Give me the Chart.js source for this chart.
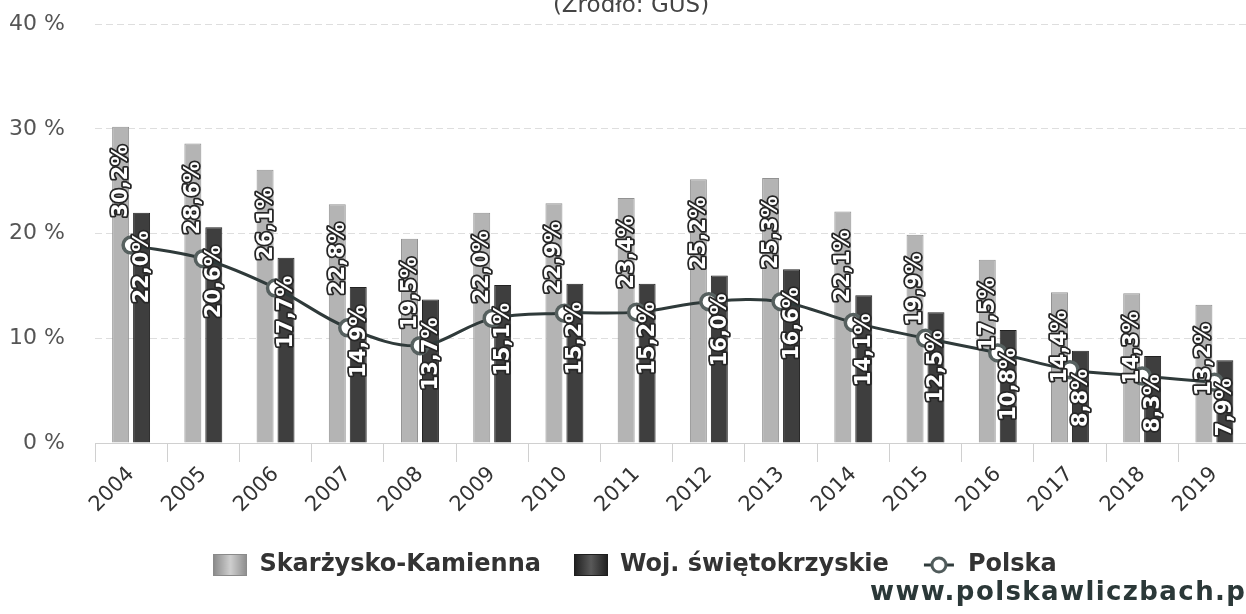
<!DOCTYPE html>
<html lang="pl">
<head>
<meta charset="utf-8">
<title>Stopa bezrobocia - Skarżysko-Kamienna</title>
<script src="https://cdn.jsdelivr.net/npm/chart.js@4.4.1/dist/chart.umd.min.js"></script>
<style>
  html, body { margin: 0; padding: 0; background: #fff; }
  #wrap { position: relative; width: 1246px; height: 614px; overflow: hidden; }
  #chart { position: absolute; left: 0; top: -19px; }
  .source {
    position: absolute; top: -7px; left: 0; width: 1262px;
    text-align: center; font: 23px/22px 'DejaVu Sans', sans-serif; color: #444;
  }
  .site {
    position: absolute; left: 870px; top: 578px; white-space: nowrap; letter-spacing: 1.4px;
    font: bold 26px/26px 'DejaVu Sans', sans-serif; color: #2b3838;
  }
</style>
</head>
<body>
<div id="wrap">
  <canvas id="chart" width="1262" height="633"></canvas>
  <div class="source">(Źródło: GUS)</div>
  <div class="site">www.polskawliczbach.pl</div>
</div>
<script>
const years = ['2004','2005','2006','2007','2008','2009','2010','2011',
               '2012','2013','2014','2015','2016','2017','2018','2019'];
const skarzysko = [30.2, 28.6, 26.1, 22.8, 19.5, 22.0, 22.9, 23.4, 25.2, 25.3, 22.1, 19.9, 17.5, 14.4, 14.3, 13.2];
const wojewodztwo = [22.0, 20.6, 17.7, 14.9, 13.7, 15.1, 15.2, 15.2, 16.0, 16.6, 14.1, 12.5, 10.8, 8.8, 8.3, 7.9];
const polska = [18.9, 17.6, 14.8, 11.0, 9.3, 11.9, 12.4, 12.5, 13.5, 13.5, 11.5, 10.0, 8.6, 7.0, 6.4, 5.8];
const yTicks = [0, 10, 20, 30, 40];

const FONT = "'DejaVu Sans', sans-serif";
const LIGHT = '#b4b4b4', LIGHT_EDGE = '#929292';
const DARK = '#3e3e3e', DARK_EDGE = '#222';
const LINE = '#2f3a3a';

// legend symbols drawn on small canvases
function makeBox(fill, edge) {
  const c = document.createElement('canvas');
  c.width = 34; c.height = 22;
  const g = c.getContext('2d');
  const grad = g.createLinearGradient(0, 0, 34, 0);
  grad.addColorStop(0, edge); grad.addColorStop(0.5, fill); grad.addColorStop(1, edge);
  g.fillStyle = grad; g.fillRect(0, 0, 34, 22);
  g.strokeStyle = edge; g.lineWidth = 1; g.strokeRect(0.5, 0.5, 33, 21);
  return c;
}
function makeLineIcon() {
  const c = document.createElement('canvas');
  c.width = 34; c.height = 22;
  const g = c.getContext('2d');
  g.strokeStyle = LINE; g.lineWidth = 3;
  g.beginPath(); g.moveTo(2, 11); g.lineTo(32, 11); g.stroke();
  g.beginPath(); g.arc(17, 11, 7, 0, Math.PI * 2);
  g.fillStyle = '#fff'; g.fill();
  g.strokeStyle = '#4f5a5a'; g.stroke();
  return c;
}
const icons = [makeBox('#cfcfcf', '#8a8a8a'), makeBox('#595959', '#1e1e1e'), makeLineIcon()];

const fmt = v => v.toFixed(1).replace('.', ',') + '%';

// white rotated labels inside the top of each bar
const barLabels = {
  id: 'barLabels',
  afterDatasetsDraw(chart) {
    const ctx = chart.ctx;
    ctx.save();
    ctx.font = `bold 21px ${FONT}`;
    ctx.textAlign = 'right';
    ctx.textBaseline = 'middle';
    ctx.lineJoin = 'round';
    [0, 1].forEach(di => {
      const meta = chart.getDatasetMeta(di);
      const vals = chart.data.datasets[di].data;
      meta.data.forEach((bar, i) => {
        ctx.save();
        ctx.translate(bar.x + 1, bar.y + 18);
        ctx.rotate(-Math.PI / 2);
        ctx.lineWidth = 3.5;
        ctx.strokeStyle = '#262626';
        ctx.strokeText(fmt(vals[i]), 0, 0);
        ctx.fillStyle = '#fff';
        ctx.fillText(fmt(vals[i]), 0, 0);
        ctx.restore();
      });
    });
    ctx.restore();
  }
};

new Chart(document.getElementById('chart'), {
  type: 'bar',
  data: {
    labels: years,
    datasets: [
      {
        label: 'Skarżysko-Kamienna',
        data: skarzysko,
        backgroundColor: LIGHT,
        borderColor: LIGHT_EDGE,
        borderWidth: 1,
        categoryPercentage: 0.58,
        barPercentage: 0.81,
        order: 1,
      },
      {
        label: 'Woj. świętokrzyskie',
        data: wojewodztwo,
        backgroundColor: DARK,
        borderColor: DARK_EDGE,
        borderWidth: 1,
        categoryPercentage: 0.58,
        barPercentage: 0.81,
        order: 1,
      },
      {
        type: 'line',
        label: 'Polska',
        data: polska,
        borderColor: LINE,
        borderWidth: 3,
        tension: 0.35,
        pointRadius: 8,
        pointBorderWidth: 3.5,
        pointBackgroundColor: '#fff',
        pointBorderColor: '#56605f',
        order: 0,
      },
    ],
  },
  options: {
    responsive: false,
    animation: false,
    layout: { padding: { top: 7, left: 8, right: 0, bottom: 27 } },
    plugins: {
      tooltip: { enabled: false },
      legend: {
        position: 'bottom',
        labels: {
          usePointStyle: true,
          pointStyleWidth: 34,
          boxHeight: 22,
          padding: 33,
          color: '#333',
          font: { family: FONT, size: 24, weight: 'bold' },
          sort: (a, b) => a.datasetIndex - b.datasetIndex,
          generateLabels(chart) {
            const items = Chart.defaults.plugins.legend.labels.generateLabels(chart);
            items.forEach(it => { it.pointStyle = icons[it.datasetIndex]; });
            return items;
          },
        },
      },
    },
    scales: {
      x: {
        grid: { offset: true, drawOnChartArea: false, tickLength: 19, color: '#d0d0d0' },
        border: { color: '#d0d0d0' },
        ticks: {
          autoSkip: false, minRotation: 45, maxRotation: 45, padding: 0,
          color: '#333', font: { family: FONT, size: 21 },
        },
        afterFit: s => { s.height = 77; },
      },
      y: {
        min: 0,
        max: 40,
        afterBuildTicks: s => { s.ticks = yTicks.map(v => ({ value: v })); },
        grid: { color: '#dedede', drawTicks: false },
        border: { display: false, dash: [7, 4] },
        ticks: {
          padding: 30, color: '#555', font: { family: FONT, size: 22 },
          callback: v => v + ' %',
        },
        afterFit: s => { s.width = 87; },
      },
    },
  },
  plugins: [barLabels],
});
</script>
</body>
</html>
